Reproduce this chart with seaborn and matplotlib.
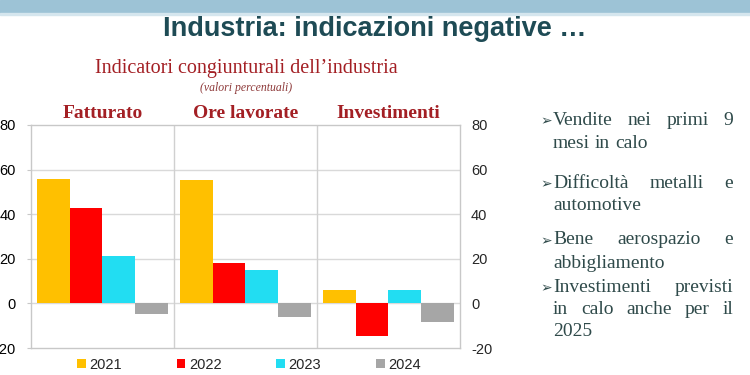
import matplotlib
matplotlib.use("Agg")
import matplotlib.pyplot as plt
import matplotlib.transforms as mtransforms
import seaborn as sns
import pandas as pd
from matplotlib.patches import Rectangle, Patch

# ---- data ----
indicators = ["Fatturato", "Ore lavorate", "Investimenti"]
years = ["2021", "2022", "2023", "2024"]
v2021 = [55.8, 55.4, 6.1]
v2022 = [42.6, 18.2, -14.7]
v2023 = [21.3, 14.8, 5.8]
v2024 = [-4.9, -6.3, -8.3]
year_colors = ["#FFC000", "#FF0000", "#22DDF2", "#A6A6A6"]
yticks = [-20, 0, 20, 40, 60, 80]

title = "Industria: indicazioni negative \u2026"
subtitle = "Indicatori congiunturali dell\u2019industria"
subnote = "(valori percentuali)"
bullet_lines = [
    (True, True, ["Vendite", "nei", "primi", "9"]),
    (False, False, ["mesi", "in", "calo"]),
    (True, True, ["Difficolt\u00e0", "metalli", "e"]),
    (False, False, ["automotive"]),
    (True, True, ["Bene", "aerospazio", "e"]),
    (False, False, ["abbigliamento"]),
    (True, True, ["Investimenti", "previsti"]),
    (False, True, ["in", "calo", "anche", "per", "il"]),
    (False, False, ["2025"]),
]
line_y = [120, 143, 183, 206, 240, 263, 287, 309, 331]

rows = []
for yr, vals in zip(years, [v2021, v2022, v2023, v2024]):
    for ind, v in zip(indicators, vals):
        rows.append({"indicatore": ind, "anno": yr, "valore": v})
df = pd.DataFrame(rows)

sns.set_style("white")
plt.rcParams["font.family"] = ["Liberation Sans", "DejaVu Sans"]

W, H = 750, 375
fig = plt.figure(figsize=(W / 100, H / 100), dpi=100)

def fx(px):
    return px / W

def fy(py):
    return 1 - py / H

# top band
fig.patches.append(Rectangle((0, fy(13)), 1, 13 / H, transform=fig.transFigure,
                             color="#9DC3D6", zorder=0))
fig.patches.append(Rectangle((0, fy(15)), 1, 2 / H, transform=fig.transFigure,
                             color="#D5E6EE", zorder=0))

ax = fig.add_axes([fx(31), fy(348), fx(460) - fx(31), fy(125) - fy(348)])
sns.barplot(data=df, x="indicatore", y="valore", hue="anno", order=indicators,
            hue_order=years, palette=year_colors, saturation=1, width=0.91,
            gap=0, ax=ax, legend=False, linewidth=0, zorder=3)

ax.set_ylim(-20, 80)
ax.set_xlim(-0.5, 2.5)
ax.set_yticks(yticks)
ax.set_yticklabels([str(t) for t in yticks])
ax.set_xticks([])
ax.set_xlabel("")
ax.set_ylabel("")
for y in yticks[1:-1]:
    ax.axhline(y, color="#D9D9D9", lw=1, zorder=1)
for xv in [0.5, 1.5]:
    ax.axvline(xv, color="#D0D0D0", lw=1, zorder=1)
for s in ax.spines.values():
    s.set_color("#C8C8C8")
    s.set_linewidth(1)
ax.tick_params(axis="y", length=3, color="#C8C8C8", pad=8, labelsize=10.5,
               labelcolor="#000000")

ax2 = ax.twinx()
ax2.set_ylim(-20, 80)
ax2.set_yticks(yticks)
ax2.set_yticklabels([str(t) for t in yticks])
ax2.tick_params(axis="y", length=0, pad=8, labelsize=10.5)
for s in ax2.spines.values():
    s.set_visible(False)

# panel titles
red = "#A31F24"
blend = mtransforms.blended_transform_factory(ax.transData, fig.transFigure)
for i, name in enumerate(indicators):
    ax.text(i, fy(113), name, transform=blend, ha="center", va="center",
            fontsize=14, fontweight="bold", family="Liberation Serif", color=red)

fig.text(fx(246), fy(69), subtitle, ha="center", va="center", fontsize=14.5,
         family="Liberation Serif", color=red)
fig.text(fx(246), fy(88), subnote, ha="center", va="center", fontsize=8.5,
         family="Liberation Serif", style="italic", color="#8E3A3A")

fig.text(fx(375), fy(29), title, ha="center", va="center", fontsize=19.5,
         fontweight="bold", family="Liberation Sans", color="#1E4B55")

# legend
handles = [Patch(facecolor=c, edgecolor="none", label=y) for y, c in zip(years, year_colors)]
fig.legend(handles=handles, loc="center", bbox_to_anchor=(fx(249), fy(365)), ncol=4,
           frameon=False, fontsize=10.5, handlelength=0.6, handleheight=0.6,
           handletextpad=0.25, columnspacing=3.75, borderaxespad=0, borderpad=0)

# right bullet text (justified)
renderer = fig.canvas.get_renderer()
tcol = "#2F4A4A"
x0, x1 = 553, 733
tkw = dict(fontsize=14, family="Liberation Serif", color=tcol, va="center", ha="left")
sp = fig.text(0, 0, "a a", **tkw)
sp2 = fig.text(0, 0, "aa", **tkw)
space_w = sp.get_window_extent(renderer).width - sp2.get_window_extent(renderer).width
sp.remove(); sp2.remove()
for (bullet, justify, words), yl in zip(bullet_lines, line_y):
    if bullet:
        fig.text(fx(540), fy(yl + 1), "\u27a2", fontsize=10, family="DejaVu Sans",
                 color=tcol, va="center", ha="left")
    texts = [fig.text(0, fy(yl), w, **tkw) for w in words]
    widths = [t.get_window_extent(renderer).width for t in texts]
    if justify and len(words) > 1:
        gap = (x1 - x0 - sum(widths)) / (len(words) - 1)
    else:
        gap = space_w
    xc = x0
    for t, w in zip(texts, widths):
        t.set_x(fx(xc))
        xc += w + gap

fig.savefig("out.png", dpi=100)
